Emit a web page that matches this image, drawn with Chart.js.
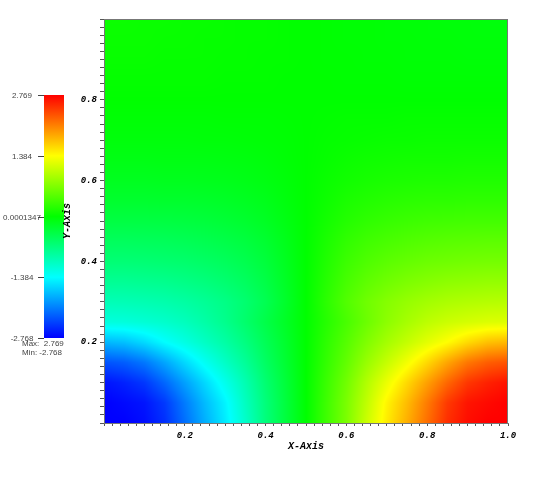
<!DOCTYPE html>
<html>
<head>
<meta charset="utf-8">
<script src="https://cdn.jsdelivr.net/npm/chart.js@4.4.1/dist/chart.umd.min.js"></script>
<style>
html, body { margin: 0; padding: 0; background: #fff; }
#wrap { width: 538px; height: 494px; }
</style>
</head>
<body>
<div id="wrap"><canvas id="plot" width="538" height="494"></canvas></div>
<script>
// mesh nodes of the sampled field
var xNodes = [0, 0.05, 0.1, 0.15, 0.2, 0.25, 0.3, 0.35, 0.4, 0.45, 0.5,
              0.55, 0.6, 0.65, 0.7, 0.75, 0.8, 0.85, 0.9, 0.95, 1];
var yNodes = [0, 0.05, 0.1, 0.15, 0.2, 0.25, 0.3, 0.35, 0.4, 0.45, 0.5,
              0.55, 0.6, 0.65, 0.7, 0.75, 0.8, 0.85, 0.9, 0.95, 1];

// nodal values, one row per yNode (bottom row first)
var fieldRows = [
  [-2.77,-2.77,-2.70,-2.52,-2.17,-1.82,-1.49,-1.10,-0.67,-0.33,0,0.33,0.67,1.10,1.49,1.82,2.17,2.52,2.70,2.77,2.77],
  [-2.77,-2.72,-2.66,-2.46,-2.10,-1.75,-1.44,-1.04,-0.66,-0.33,0,0.33,0.66,1.04,1.44,1.75,2.10,2.46,2.66,2.72,2.77],
  [-2.67,-2.59,-2.47,-2.21,-1.90,-1.59,-1.28,-0.96,-0.61,-0.31,0,0.31,0.61,0.96,1.28,1.59,1.90,2.21,2.47,2.59,2.67],
  [-2.32,-2.26,-2.12,-1.87,-1.59,-1.32,-1.07,-0.82,-0.53,-0.27,0,0.27,0.53,0.82,1.07,1.32,1.59,1.87,2.12,2.26,2.32],
  [-1.77,-1.72,-1.58,-1.39,-1.23,-1.06,-0.89,-0.69,-0.46,-0.24,0,0.24,0.46,0.69,0.89,1.06,1.23,1.39,1.58,1.72,1.77],
  [-1.20,-1.19,-1.15,-1.10,-1.02,-0.90,-0.76,-0.58,-0.39,-0.20,0,0.20,0.39,0.58,0.76,0.90,1.02,1.10,1.15,1.19,1.20],
  [-0.99,-0.98,-0.96,-0.93,-0.88,-0.81,-0.72,-0.60,-0.44,-0.23,0,0.23,0.44,0.60,0.72,0.81,0.88,0.93,0.96,0.98,0.99],
  [-0.80,-0.80,-0.78,-0.76,-0.72,-0.67,-0.60,-0.51,-0.38,-0.20,0,0.20,0.38,0.51,0.60,0.67,0.72,0.76,0.78,0.80,0.80],
  [-0.63,-0.63,-0.62,-0.60,-0.58,-0.54,-0.49,-0.42,-0.32,-0.17,0,0.17,0.32,0.42,0.49,0.54,0.58,0.60,0.62,0.63,0.63],
  [-0.50,-0.50,-0.49,-0.48,-0.46,-0.43,-0.39,-0.34,-0.26,-0.14,0,0.14,0.26,0.34,0.39,0.43,0.46,0.48,0.49,0.50,0.50],
  [-0.36,-0.36,-0.36,-0.35,-0.34,-0.32,-0.29,-0.25,-0.19,-0.10,0,0.10,0.19,0.25,0.29,0.32,0.34,0.35,0.36,0.36,0.36],
  [-0.25,-0.25,-0.25,-0.24,-0.24,-0.23,-0.21,-0.18,-0.14,-0.07,0,0.07,0.14,0.18,0.21,0.23,0.24,0.24,0.25,0.25,0.25],
  [-0.17,-0.17,-0.17,-0.16,-0.16,-0.15,-0.14,-0.12,-0.09,-0.05,0,0.05,0.09,0.12,0.14,0.15,0.16,0.16,0.17,0.17,0.17],
  [-0.11,-0.11,-0.11,-0.10,-0.10,-0.10,-0.09,-0.08,-0.06,-0.03,0,0.03,0.06,0.08,0.09,0.10,0.10,0.10,0.11,0.11,0.11],
  [-0.06,-0.06,-0.06,-0.06,-0.06,-0.05,-0.05,-0.04,-0.03,-0.02,0,0.02,0.03,0.04,0.05,0.05,0.06,0.06,0.06,0.06,0.06],
  [-0.03,-0.03,-0.03,-0.03,-0.03,-0.03,-0.02,-0.02,-0.02,-0.01,0,0.01,0.02,0.02,0.02,0.03,0.03,0.03,0.03,0.03,0.03],
  [0,0,0,0,0,0,0,0,0,0,0,0,0,0,0,0,0,0,0,0,0],
  [0.02,0.02,0.02,0.02,0.02,0.02,0.01,0.01,0.01,0,0,0,-0.01,-0.01,-0.01,-0.02,-0.02,-0.02,-0.02,-0.02,-0.02],
  [0.04,0.04,0.04,0.03,0.03,0.03,0.02,0.02,0.01,0.01,0,-0.01,-0.01,-0.02,-0.02,-0.03,-0.03,-0.03,-0.04,-0.04,-0.04],
  [0.05,0.05,0.05,0.04,0.04,0.03,0.03,0.02,0.02,0.01,0,-0.01,-0.02,-0.02,-0.03,-0.03,-0.04,-0.04,-0.05,-0.05,-0.05],
  [0.06,0.06,0.05,0.05,0.04,0.04,0.03,0.02,0.02,0.01,0,-0.01,-0.02,-0.02,-0.03,-0.04,-0.04,-0.05,-0.05,-0.06,-0.06]
];

var xMajorTicks = [0.2, 0.4, 0.6, 0.8, 1.0];
var xTickLabels = ['0.2', '0.4', '0.6', '0.8', '1.0'];
var yMajorTicks = [0.2, 0.4, 0.6, 0.8];
var yTickLabels = ['0.2', '0.4', '0.6', '0.8'];
var barLabels = ['2.769', '1.384', '0.0001347', '-1.384', '-2.768'];
var dataMin = -2.768;
var dataMax = 2.769;

var axisFont = { family: 'Liberation Mono', size: 9, weight: 'bold', style: 'italic' };

function rgbFor(v) {
  var t = (v - dataMin) / (dataMax - dataMin);
  t = Math.max(0, Math.min(1, t));
  if (t < 0.25) return [0, 255 * t / 0.25, 255];
  if (t < 0.5) return [0, 255, 255 * (0.5 - t) / 0.25];
  if (t < 0.75) return [255 * (t - 0.5) / 0.25, 255, 0];
  return [255, 255 * (1 - t) / 0.25, 0];
}
function colorFor(v) {
  var c = rgbFor(v);
  return 'rgb(' + Math.round(c[0]) + ',' + Math.round(c[1]) + ',' + Math.round(c[2]) + ')';
}

function majorLabel(v, majors, labels) {
  for (var i = 0; i < majors.length; i++) {
    if (Math.abs(v - majors[i]) < 1e-6) return labels[i];
  }
  return '';
}

var nodes = [];
for (var j = 0; j < yNodes.length; j++) {
  for (var i = 0; i < xNodes.length; i++) {
    nodes.push({ x: xNodes[i], y: yNodes[j], v: fieldRows[j][i] });
  }
}

function locate(val, arr) {
  var n = arr.length;
  var f = (val - arr[0]) / (arr[n - 1] - arr[0]) * (n - 1);
  f = Math.max(0, Math.min(n - 1, f));
  var k = Math.min(n - 2, Math.floor(f));
  return [k, f - k];
}

// smooth (nodal) shading of the mesh, placed through the chart scales
var shading = {
  id: 'shading',
  beforeDatasetsDraw: function (chart) {
    var a = chart.chartArea, xs = chart.scales.x, ys = chart.scales.y;
    var left = Math.round(a.left), top = Math.round(a.top);
    var w = Math.round(a.right) - left, h = Math.round(a.bottom) - top;
    var img = chart.ctx.createImageData(w, h);
    var cols = [];
    for (var px = 0; px < w; px++) cols.push(locate(xs.getValueForPixel(left + px + 0.5), xNodes));
    for (var py = 0; py < h; py++) {
      var ly = locate(ys.getValueForPixel(top + py + 0.5), yNodes);
      var r0 = fieldRows[ly[0]], r1 = fieldRows[ly[0] + 1], ty = ly[1];
      for (var q = 0; q < w; q++) {
        var i = cols[q][0], tx = cols[q][1];
        var v = (1 - ty) * ((1 - tx) * r0[i] + tx * r0[i + 1]) + ty * ((1 - tx) * r1[i] + tx * r1[i + 1]);
        var c = rgbFor(v);
        var k = (py * w + q) * 4;
        img.data[k] = c[0]; img.data[k + 1] = c[1]; img.data[k + 2] = c[2]; img.data[k + 3] = 255;
      }
    }
    chart.ctx.putImageData(img, left, top);
  }
};

// frame, colour bar and axis titles
var extras = {
  id: 'extras',
  afterDraw: function (chart) {
    var c = chart.ctx, a = chart.chartArea;
    c.save();
    c.strokeStyle = '#777';
    c.lineWidth = 1;
    c.strokeRect(Math.round(a.left) + 0.5, Math.round(a.top) + 0.5,
                 Math.round(a.right - a.left) - 1, Math.round(a.bottom - a.top));

    var barTop = 95, barBottom = 338, barLeft = 44, barW = 20;
    var g = c.createLinearGradient(0, barBottom, 0, barTop);
    for (var k = 0; k <= 4; k++) {
      g.addColorStop(k / 4, colorFor(dataMin + (dataMax - dataMin) * k / 4));
    }
    c.fillStyle = g;
    c.fillRect(barLeft, barTop, barW, barBottom - barTop);

    c.font = '8px "Liberation Sans", Arial, sans-serif';
    c.fillStyle = '#444';
    c.strokeStyle = '#444';
    c.textBaseline = 'middle';
    c.textAlign = 'left';
    for (var n = 0; n < barLabels.length; n++) {
      var yy = barTop + (barBottom - barTop) * n / (barLabels.length - 1);
      c.beginPath();
      c.moveTo(38, Math.round(yy) + 0.5);
      c.lineTo(barLeft, Math.round(yy) + 0.5);
      c.stroke();
      var w = c.measureText(barLabels[n]).width;
      c.fillText(barLabels[n], Math.max(0, 22 - w / 2), yy + 1);
    }
    c.fillText('Max:  ' + barLabels[0], 22, 344);
    c.fillText('Min: ' + barLabels[4], 22, 353);

    c.fillStyle = '#000';
    c.font = 'italic bold 10px "Liberation Mono", monospace';
    c.textAlign = 'center';
    c.fillText('X-Axis', (a.left + a.right) / 2, 446);
    c.translate(67, (a.top + a.bottom) / 2);
    c.rotate(-Math.PI / 2);
    c.fillText('Y-Axis', 0, 0);
    c.restore();
  }
};

new Chart(document.getElementById('plot').getContext('2d'), {
  type: 'scatter',
  data: {
    datasets: [{
      data: nodes,
      pointRadius: 0,
      hoverRadius: 0,
      borderWidth: 0
    }]
  },
  options: {
    responsive: false,
    animation: false,
    events: [],
    layout: { padding: { left: 0, right: 30, top: 19, bottom: 0 } },
    plugins: { legend: { display: false }, tooltip: { enabled: false } },
    scales: {
      x: {
        type: 'linear', min: 0, max: 1,
        afterFit: function (s) { s.height = 71; },
        ticks: {
          stepSize: 0.02, autoSkip: false, maxRotation: 0, padding: 4,
          color: '#000', font: axisFont,
          callback: function (v) { return majorLabel(v, xMajorTicks, xTickLabels); }
        },
        grid: { drawOnChartArea: false, drawTicks: true, tickLength: 3, color: '#555' },
        border: { display: true, color: '#777' }
      },
      y: {
        type: 'linear', min: 0, max: 1,
        afterFit: function (s) { s.width = 104; },
        ticks: {
          stepSize: 0.02, autoSkip: false, padding: 3,
          color: '#000', font: axisFont,
          callback: function (v) { return majorLabel(v, yMajorTicks, yTickLabels); }
        },
        grid: { drawOnChartArea: false, drawTicks: true, tickLength: 4, color: '#555' },
        border: { display: true, color: '#777' }
      }
    }
  },
  plugins: [shading, extras]
});
</script>
</body>
</html>
